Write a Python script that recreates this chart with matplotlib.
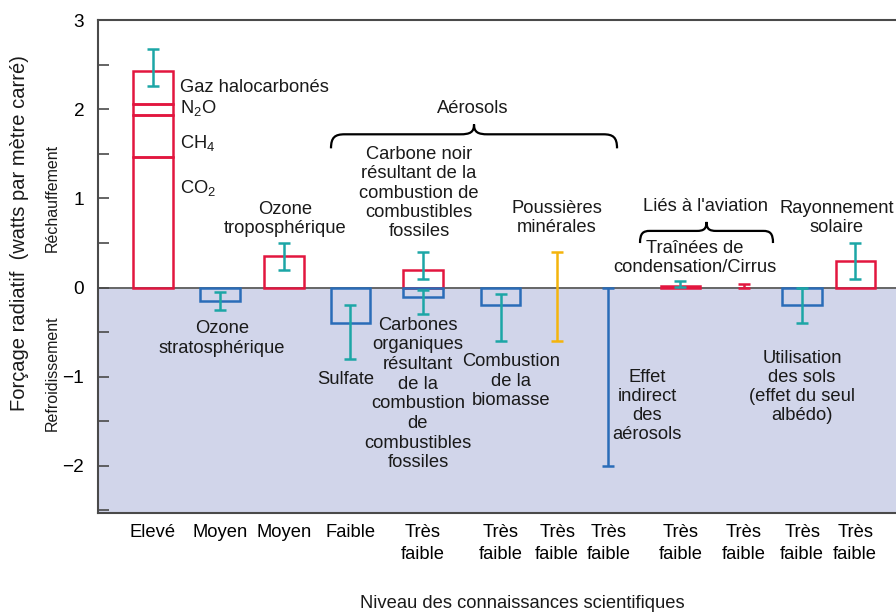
import numpy as np
import matplotlib.pyplot as plt
from matplotlib.path import Path
from matplotlib.patches import PathPatch

plt.rcParams['font.family'] = ['Liberation Sans', 'DejaVu Sans']
plt.rcParams['mathtext.fontset'] = 'custom'
plt.rcParams['mathtext.rm'] = 'Liberation Sans'
plt.rcParams['mathtext.it'] = 'Liberation Sans:italic'

# === Données ===
niveaux = ["Elevé", "Moyen", "Moyen", "Faible", "Très\nfaible", "Très\nfaible",
           "Très\nfaible", "Très\nfaible", "Très\nfaible", "Très\nfaible",
           "Très\nfaible", "Très\nfaible"]
# position de chaque colonne (unités de l'axe x)
x_pos = [0.84, 1.86, 2.84, 3.85, 4.96, 6.15, 7.01, 7.79, 8.89, 9.86, 10.75, 11.56]

# gaz à effet de serre : bornes cumulées CO2, CH4, N2O, halocarbonés
gaz_bornes = [0.0, 1.46, 1.94, 2.06, 2.43]
gaz_incert = (2.26, 2.68)

# barres simples : index de colonne, valeur, incertitude basse / haute
barres_idx = [1, 2, 3, 4, 4, 5, 8, 10, 11]
barres_val = [-0.15, 0.35, -0.40, 0.20, -0.10, -0.20, 0.02, -0.20, 0.30]
incert_bas = [-0.25, 0.20, -0.80, 0.10, -0.30, -0.60, 0.005, -0.40, 0.10]
incert_haut = [-0.05, 0.50, -0.20, 0.40, -0.03, -0.07, 0.07, 0.00, 0.50]

# plages sans meilleure estimation (poussières, effet indirect, cirrus)
plages_idx = [6, 7, 9]
plages_bas = [-0.60, -2.00, 0.00]
plages_haut = [0.40, 0.00, 0.04]

ROUGE = '#e2163f'
BLEU = '#2a6cb8'
TURQ = '#1ca6a6'
JAUNE = '#f4b40c'
LAVANDE = '#d1d5ea'
GRIS = '#4a4a4a'
plages_col = [JAUNE, BLEU, ROUGE]

FS = 13.2


def accolade(ax, x0, x1, y0, y1, y2, dx):
    xm = (x0 + x1) / 2
    verts = [(x0, y0),
             (x0, y1 - (y1 - y0) * 0.2), (x0 + dx * 0.3, y1), (x0 + dx, y1),
             (xm - dx, y1),
             (xm - dx * 0.3, y1), (xm, y1 + (y2 - y1) * 0.2), (xm, y2),
             (xm, y1 + (y2 - y1) * 0.2), (xm + dx * 0.3, y1), (xm + dx, y1),
             (x1 - dx, y1),
             (x1 - dx * 0.3, y1), (x1, y1 - (y1 - y0) * 0.2), (x1, y0)]
    codes = [Path.MOVETO,
             Path.CURVE4, Path.CURVE4, Path.CURVE4,
             Path.LINETO,
             Path.CURVE4, Path.CURVE4, Path.CURVE4,
             Path.CURVE4, Path.CURVE4, Path.CURVE4,
             Path.LINETO,
             Path.CURVE4, Path.CURVE4, Path.CURVE4]
    ax.add_patch(PathPatch(Path(verts, codes), fill=False, lw=1.6,
                           edgecolor='black', zorder=4))


fig = plt.figure(figsize=(8.96, 6.13), dpi=100)
ax = fig.add_axes([0.1094, 0.163, 0.905, 0.804])
ax.set_xlim(0, 12.38)
ax.set_ylim(-2.53, 3)

ax.axhspan(-2.53, 0, color=LAVANDE, zorder=0)
ax.axhline(0, color='#666666', lw=1.4, zorder=1)

# barre empilée des gaz
xg = x_pos[0]
ax.bar([xg] * 4, np.diff(gaz_bornes), bottom=gaz_bornes[:-1], width=0.6,
       fill=False, edgecolor=ROUGE, lw=1.8, zorder=3)
ax.errorbar(xg, np.mean(gaz_incert), yerr=(gaz_incert[1] - gaz_incert[0]) / 2,
            fmt='none', ecolor=TURQ, elinewidth=1.8, capsize=4.5, capthick=1.8, zorder=4)

# barres simples
xb = [x_pos[i] for i in barres_idx]
coul = [ROUGE if v > 0 else BLEU for v in barres_val]
ax.bar(xb, barres_val, width=0.6, fill=False, edgecolor=coul, lw=1.8, zorder=3)
bas = np.array(incert_bas)
haut = np.array(incert_haut)
ax.errorbar(xb, (bas + haut) / 2, yerr=(haut - bas) / 2, fmt='none',
            ecolor=TURQ, elinewidth=1.8, capsize=4.5, capthick=1.8, zorder=4)

# plages
for i, b, h, c in zip(plages_idx, plages_bas, plages_haut, plages_col):
    ax.errorbar(x_pos[i], (b + h) / 2, yerr=(h - b) / 2, fmt='none', ecolor=c,
                elinewidth=1.8, capsize=4.5, capthick=1.8, zorder=4)

# textes
kw = dict(fontsize=FS, ha='center', va='center', linespacing=1.17, color='#1a1a1a', zorder=5)
ax.text(1.25, 2.243, "Gaz halocarbonés", **{**kw, 'ha': 'left'})
ax.text(1.25, 2.01, "N$_2$O", **{**kw, 'ha': 'left'})
ax.text(1.25, 1.62, "CH$_4$", **{**kw, 'ha': 'left'})
ax.text(1.25, 1.12, "CO$_2$", **{**kw, 'ha': 'left'})
ax.text(2.855, 0.77, "Ozone\ntroposphérique", **kw)
ax.text(5.725, 2.01, "Aérosols", **kw)
ax.text(4.90, 1.06, "Carbone noir\nrésultant de la\ncombustion de\ncombustibles\nfossiles", **kw)
ax.text(7.01, 0.78, "Poussières\nminérales", **kw)
ax.text(9.28, 0.915, "Liés à l'aviation", **kw)
ax.text(9.115, 0.335, "Traînées de\ncondensation/Cirrus", **kw)
ax.text(11.28, 0.78, "Rayonnement\nsolaire", **kw)
ax.text(1.89, -0.57, "Ozone\nstratosphérique", **kw)
ax.text(3.79, -1.027, "Sulfate", **kw)
# bloc ligne par ligne (les lignes s'imbriquent avec "Sulfate")
lignes_oc = ["Carbones", "organiques", "résultant", "de la", "combustion",
             "de", "combustibles", "fossiles"]
for k, t in enumerate(lignes_oc):
    ax.text(4.885, -0.42 - 0.221 * k, t, **kw)
ax.text(6.305, -1.05, "Combustion\nde la\nbiomasse", **kw)
ax.text(8.38, -1.33, "Effet\nindirect\ndes\naérosols", **kw)
ax.text(10.75, -1.116, "Utilisation\ndes sols\n(effet du seul\nalbédo)", **kw)

accolade(ax, 3.557, 7.924, 1.5625, 1.72, 1.83, 0.21)
accolade(ax, 8.275, 10.305, 0.50, 0.636, 0.737, 0.15)

# axes
ax.set_xticks(x_pos)
ax.set_xticklabels(niveaux, fontsize=FS, linespacing=1.4)
ax.tick_params(axis='x', length=0, pad=8)
ax.set_yticks([-2, -1, 0, 1, 2, 3])
ax.set_yticklabels(["\u22122", "\u22121", "0", "1", "2", "3"])
ax.set_yticks(np.arange(-2.5, 3.01, 0.5), minor=True)
ax.tick_params(axis='y', which='both', direction='in', length=8, width=1.2,
               color=GRIS, labelsize=FS + 0.5, pad=10)
for s in ['left', 'top', 'bottom']:
    ax.spines[s].set_color(GRIS)
    ax.spines[s].set_linewidth(1.5)
ax.spines['right'].set_visible(False)

fig.text(20 / 896, 1 - 233 / 613, "Forçage radiatif  (watts par mètre carré)",
         rotation=90, ha='center', va='center', fontsize=14.5, color='#1a1a1a')
fig.text(52 / 896, 1 - 198 / 613, "Réchauffement", rotation=90, ha='center',
         va='center', fontsize=11.5, color='#1a1a1a')
fig.text(52 / 896, 1 - 373 / 613, "Refroidissement", rotation=90, ha='center',
         va='center', fontsize=11.5, color='#1a1a1a')
fig.text(522 / 896, 1 - 604 / 613, "Niveau des connaissances scientifiques",
         ha='center', va='center', fontsize=FS, color='#1a1a1a')

fig.savefig("out.png", dpi=100)
